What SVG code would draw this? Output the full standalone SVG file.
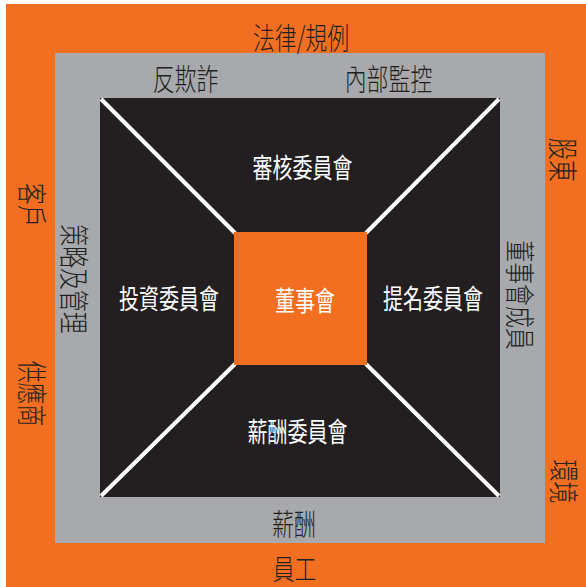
<svg xmlns="http://www.w3.org/2000/svg" width="586" height="587" viewBox="0 0 586 587">
<style>
  .t { font-family: "Noto Sans CJK TC", "Noto Sans CJK SC", sans-serif; text-anchor: middle; dominant-baseline: central; }
  .d { fill: #231F20; font-size: 30px; font-weight: 300; }
  .w { fill: #FFFFFF; font-size: 27px; }
  .ln { stroke: #FFFFFF; stroke-width: 4; stroke-linecap: butt; }
</style>
<rect x="0" y="0" width="586" height="587" fill="#FFFFFF"/>
<g id="outer">
  <rect x="6" y="4" width="580" height="583" fill="#F26F21"/>
</g>
<g id="middle">
  <rect x="55" y="53" width="490" height="490" fill="#A7A9AC"/>
</g>
<g id="inner">
  <rect x="100" y="98" width="400" height="399" fill="#231F20"/>
</g>
<g id="connectors">
  <line class="ln" x1="101" y1="99" x2="235" y2="233"/>
  <line class="ln" x1="499" y1="99" x2="366" y2="233"/>
  <line class="ln" x1="101" y1="496" x2="235" y2="364"/>
  <line class="ln" x1="499" y1="496" x2="366" y2="364"/>
</g>
<g id="board">
  <rect x="234" y="232" width="133" height="133" fill="#F26F21"/>
  <text class="t w" transform="translate(305,299) scale(0.74,1)">董事會</text>
</g>
<g id="audit"><text class="t w" transform="translate(302.5,166) scale(0.74,1)">審核委員會</text></g>
<g id="invest"><text class="t w" transform="translate(169,297.5) scale(0.74,1)">投資委員會</text></g>
<g id="nomination"><text class="t w" transform="translate(433,297.5) scale(0.74,1)">提名委員會</text></g>
<g id="remuneration"><text class="t w" transform="translate(297.5,430) scale(0.74,1)">薪酬委員會</text></g>

<g id="law"><text class="t d" transform="translate(301,36) scale(0.73,1)">法律/規例</text></g>
<g id="fraud"><text class="t d" transform="translate(185.5,77.5) scale(0.73,1)">反欺詐</text></g>
<g id="control"><text class="t d" transform="translate(388.5,77.5) scale(0.73,1)">內部監控</text></g>
<g id="pay"><text class="t d" transform="translate(294,522) scale(0.73,1)">薪酬</text></g>
<g id="staff"><text class="t d" style="font-size:28px" transform="translate(294.5,568) scale(0.78,1)">員工</text></g>
<g id="customer"><text class="t d" transform="translate(34,205) rotate(90) scale(0.73,1)">客戶</text></g>
<g id="strategy"><text class="t d" transform="translate(76,279) rotate(90) scale(0.73,1)">策略及管理</text></g>
<g id="supplier"><text class="t d" transform="translate(34,393.5) rotate(90) scale(0.73,1)">供應商</text></g>
<g id="shareholder"><text class="t d" transform="translate(565,160) rotate(90) scale(0.73,1)">股東</text></g>
<g id="directors"><text class="t d" transform="translate(522,295) rotate(90) scale(0.73,1)">董事會成員</text></g>
<g id="environment"><text class="t d" transform="translate(565.5,481.5) rotate(90) scale(0.73,1)">環境</text></g>
</svg>
